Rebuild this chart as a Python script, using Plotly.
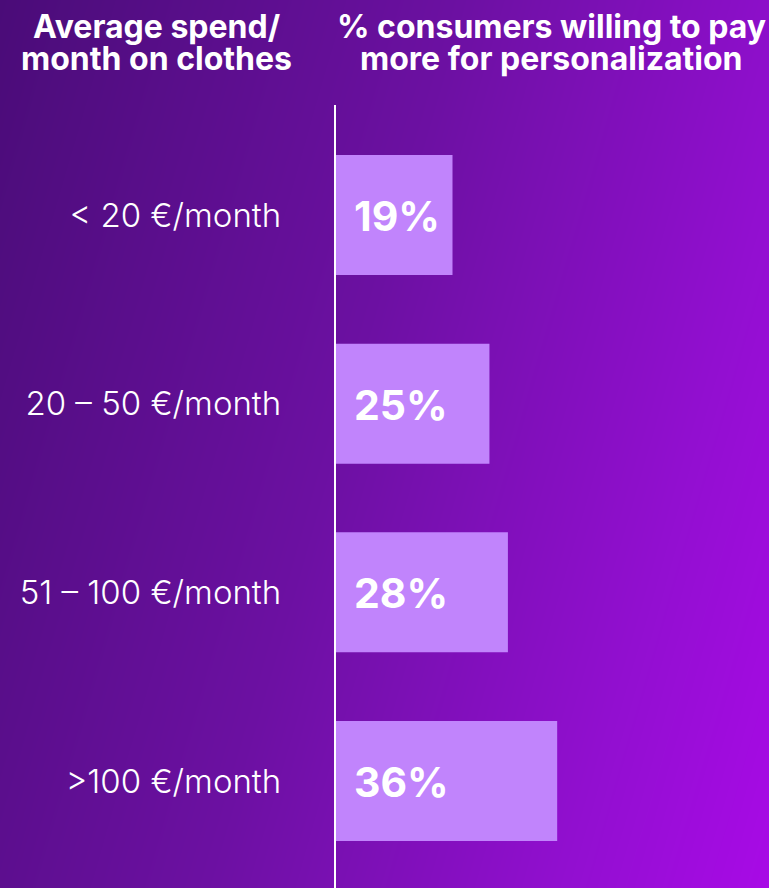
import numpy as np
import plotly.graph_objects as go

categories = ["< 20 €/month", "20 – 50 €/month", "51 – 100 €/month", ">100 €/month"]
values = [19, 25, 28, 36]
title_left = ["Average spend/", "month on clothes"]
title_right = ["% consumers willing to pay", "more for personalization"]

W, H = 769, 888
ypos = list(range(len(categories)))

# background gradient (styling only)
gx = np.linspace(0, 1, 40)
gy = np.linspace(0, 1, 40)
GX, GY = np.meshgrid(gx, gy)
GZ = 0.75 * GX + 0.25 * (1 - GY)

fig = go.Figure()
fig.add_trace(go.Heatmap(
    x=gx, y=gy, z=GZ, xaxis="x", yaxis="y", zsmooth="best", showscale=False,
    hoverinfo="skip",
    colorscale=[[0, "#4a0c78"], [0.45, "#6c10a2"], [0.8, "#920fd0"], [1, "#a80ae6"]],
))
fig.add_trace(go.Bar(
    x=values, y=ypos, orientation="h", width=0.636, xaxis="x2", yaxis="y2",
    marker=dict(color="#c184fc", line=dict(width=0)),
    hoverinfo="skip",
))
for v, y in zip(values, ypos):
    fig.add_annotation(x=0, y=y, xref="x2", yref="y2", text=f"{v}%", showarrow=False,
                       xanchor="left", yanchor="middle", xshift=16, yshift=-1,
                       font=dict(family="Inter", size=41, color="white", weight=700))

line_y = [27, 58]
for txt, ly in zip(title_left, line_y):
    fig.add_annotation(x=156 / W, y=1 - ly / H, xref="paper", yref="paper", text=txt,
                       showarrow=False, xanchor="center", yanchor="middle",
                       font=dict(family="Inter", size=32, color="white", weight=700))
for txt, ly in zip(title_right, line_y):
    fig.add_annotation(x=551 / W, y=1 - ly / H, xref="paper", yref="paper", text=txt,
                       showarrow=False, xanchor="center", yanchor="middle",
                       font=dict(family="Inter", size=32, color="white", weight=700))

fig.update_layout(
    width=W, height=H,
    margin=dict(l=0, r=0, t=0, b=0),
    paper_bgcolor="#5a0e90", plot_bgcolor="rgba(0,0,0,0)",
    showlegend=False,
    xaxis=dict(domain=[0, 1], range=[0, 1], visible=False, anchor="y", fixedrange=True),
    yaxis=dict(domain=[0, 1], range=[0, 1], visible=False, anchor="x", fixedrange=True),
    xaxis2=dict(domain=[335.5 / W, 1], range=[0, 70.4], visible=False, fixedrange=True, anchor="y2"),
    yaxis2=dict(domain=[0, 1 - 105 / H], range=[3.567, -0.583], tickvals=ypos, ticktext=categories,
                anchor="x2", fixedrange=True,
                showline=True, linecolor="white", linewidth=1.5, showgrid=False,
                zeroline=False, ticks="", ticklabelstandoff=46, automargin=False,
                tickfont=dict(family="Inter", size=33, color="white", weight=300)),
)
fig.write_html("out.html", config={"displayModeBar": False},
               post_script="document.body.style.margin='0';")
